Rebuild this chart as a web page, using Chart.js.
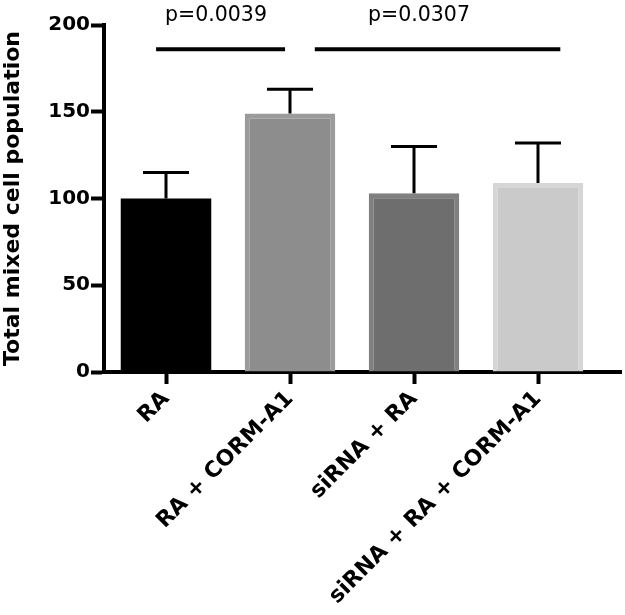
<!DOCTYPE html>
<html>
<head>
<meta charset="utf-8">
<script src="https://cdn.jsdelivr.net/npm/chart.js@4/dist/chart.umd.min.js"></script>
<style>
  html, body { margin: 0; padding: 0; background: #fff; }
  #wrap { width: 625px; height: 615px; }
</style>
</head>
<body>
<div id="wrap"><canvas id="cellchart"></canvas></div>
<script>
// data
const groups = ["RA", "RA + CORM-A1", "siRNA + RA", "siRNA + RA + CORM-A1"];
const means = [100, 149, 103, 109];
const errTops = [115, 163, 130, 132];
const yTicks = [0, 50, 100, 150, 200];
const fills = ["#000000", "#8d8d8d", "#6e6e6e", "#cacaca"];
const edges = ["#000000", "#9b9b9b", "#808080", "#d6d6d6"];
// significance brackets: from / to (category index) and height (y value)
const sigFrom = [-0.08, 1.2];
const sigTo = [0.96, 3.18];
const sigY = [186, 186];
const sigText = ["p=0.0039", "p=0.0307"];

const FONT = "'DejaVu Sans', Arial, sans-serif";

const extras = {
  id: "extras",
  afterDatasetsDraw(chart) {
    const ctx = chart.ctx;
    const xs = chart.scales.x, ys = chart.scales.y;
    ctx.save();
    ctx.strokeStyle = "#000";
    ctx.lineWidth = 3;
    // upward error bars
    for (let i = 0; i < means.length; i++) {
      const x = xs.getPixelForValue(i);
      const y0 = ys.getPixelForValue(means[i]);
      const y1 = ys.getPixelForValue(errTops[i]);
      ctx.beginPath();
      ctx.moveTo(x, y0);
      ctx.lineTo(x, y1);
      ctx.moveTo(x - 23, y1);
      ctx.lineTo(x + 23, y1);
      ctx.stroke();
    }
    // significance lines and p values
    const step = xs.getPixelForValue(1) - xs.getPixelForValue(0);
    ctx.lineWidth = 4;
    ctx.fillStyle = "#000";
    ctx.font = "20.5px " + FONT;
    ctx.textAlign = "center";
    ctx.textBaseline = "alphabetic";
    for (let i = 0; i < sigText.length; i++) {
      const a = xs.getPixelForValue(0) + sigFrom[i] * step;
      const b = xs.getPixelForValue(0) + sigTo[i] * step;
      const y = ys.getPixelForValue(sigY[i]);
      ctx.beginPath();
      ctx.moveTo(a, y);
      ctx.lineTo(b, y);
      ctx.stroke();
    }
    ctx.fillText(sigText[0], 216, 21);
    ctx.fillText(sigText[1], 419, 21);
    // x axis runs on past the last category
    const area = chart.chartArea;
    ctx.beginPath();
    ctx.moveTo(area.right - 2, area.bottom);
    ctx.lineTo(622, area.bottom);
    ctx.stroke();
    ctx.restore();
  }
};

const chart = new Chart(document.getElementById("cellchart"), {
  type: "bar",
  data: {
    labels: groups,
    datasets: [{
      data: means,
      backgroundColor: fills,
      borderColor: edges,
      borderWidth: [0, 5, 5, 5],
      borderSkipped: "bottom",
      barPercentage: 0.73,
      categoryPercentage: 1
    }]
  },
  options: {
    responsive: true,
    maintainAspectRatio: false,
    animation: false,
    layout: { padding: { top: 25, right: 25, left: 0, bottom: 0 } },
    plugins: { legend: { display: false }, tooltip: { enabled: false } },
    scales: {
      x: {
        afterFit: s => { s.height = 243; },
        grid: { display: true, drawOnChartArea: false, offset: false, tickLength: 12, tickWidth: 4, tickColor: "#000" },
        border: { display: true, color: "#000", width: 4 },
        ticks: {
          color: "#000",
          minRotation: 45,
          maxRotation: 45,
          padding: 2,
          font: { family: FONT, size: 22, weight: "bold" }
        }
      },
      y: {
        min: 0,
        max: 200,
        afterFit: s => { s.width = 104; },
        afterBuildTicks: s => { s.ticks = yTicks.map(v => ({ value: v })); },
        grid: { display: true, drawOnChartArea: false, tickLength: 13, tickWidth: 4, tickColor: "#000" },
        border: { display: true, color: "#000", width: 4 },
        ticks: {
          color: "#000",
          padding: 1,
          font: { family: FONT, size: 20, weight: "bold" }
        },
        title: {
          display: true,
          text: "Total mixed cell population",
          color: "#000",
          padding: 0,
          font: { family: FONT, size: 22, weight: "bold" }
        }
      }
    }
  },
  plugins: [extras]
});
</script>
</body>
</html>
